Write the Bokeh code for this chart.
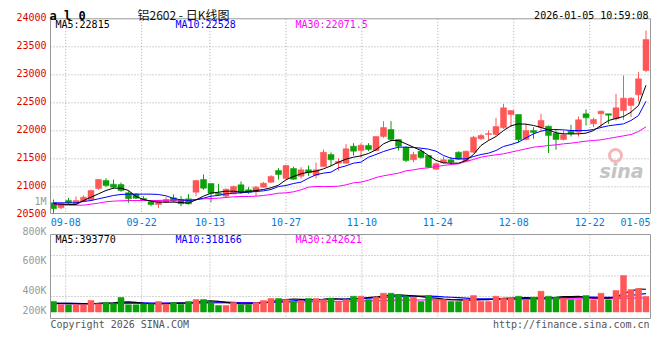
from bokeh.plotting import figure
from bokeh.models import Range1d, ColumnDataSource
from bokeh.core.properties import value
from bokeh.embed import file_html
from bokeh.resources import INLINE

# ---------------- data ----------------
opens = [20714, 20625, 20756, 20696, 20744, 20767, 20970, 21113, 21047, 21041,
         20892, 20869, 20791, 20732, 20684, 20726, 20803, 20773, 20785, 20904,
         21130, 21059, 20886, 20833, 20875, 21035, 20946, 20922, 20994, 21083,
         21291, 21148, 21327, 21190, 21303, 21208, 21363, 21577, 21422, 21422,
         21726, 21648, 21738, 21648, 21898, 22023, 21845, 21702, 21482, 21636,
         21559, 21315, 21428, 21482, 21619, 21458, 21619, 21856, 21934, 21934,
         22053, 22291, 22291, 21845, 22005, 22065, 22083, 21958, 21845, 21993,
         21976, 22303, 22124, 22303, 22303, 22214, 22362, 22452, 22642, 23077]
highs = [20773, 20708, 20803, 20827, 20845, 20946, 21142, 21154, 21130, 21077,
         20922, 20886, 20833, 20756, 20767, 20815, 20863, 20833, 20869, 21124,
         21220, 21059, 21053, 20970, 21023, 21095, 20994, 21017, 21083, 21208,
         21333, 21392, 21357, 21351, 21380, 21434, 21666, 21613, 21511, 21761,
         21779, 21779, 21779, 21898, 22172, 22172, 21845, 21720, 21624, 21678,
         21559, 21434, 21541, 21529, 21630, 21648, 21910, 21946, 22005, 22232,
         22482, 22362, 22291, 22124, 22065, 22303, 22095, 22017, 22005, 22107,
         22255, 22380, 22232, 22362, 22303, 22660, 22987, 22601, 23047, 23791]
lows = [20529, 20601, 20684, 20672, 20726, 20744, 20946, 20994, 20964, 20910,
        20714, 20779, 20756, 20654, 20619, 20708, 20726, 20654, 20684, 20833,
        20946, 20726, 20845, 20815, 20863, 20875, 20875, 20833, 20982, 21065,
        21130, 21136, 21124, 21148, 21196, 21148, 21351, 21369, 21291, 21410,
        21559, 21517, 21636, 21636, 21874, 21809, 21648, 21440, 21440, 21500,
        21333, 21303, 21410, 21410, 21482, 21440, 21601, 21839, 21827, 21916,
        22035, 22065, 21791, 21827, 21857, 22005, 21601, 21660, 21827, 21898,
        21898, 22095, 22065, 22065, 22124, 22184, 22196, 22244, 22523, 23047]
closes = [20607, 20696, 20714, 20756, 20815, 20934, 21130, 21023, 20994, 20934,
          20785, 20797, 20767, 20684, 20744, 20773, 20744, 20696, 20696, 21113,
          20976, 20886, 20863, 20958, 21005, 20904, 20904, 20994, 21065, 21184,
          21220, 21380, 21136, 21303, 21250, 21303, 21618, 21482, 21452, 21678,
          21636, 21743, 21666, 21898, 22059, 21845, 21726, 21470, 21577, 21523,
          21351, 21410, 21482, 21440, 21494, 21636, 21886, 21916, 21952, 22077,
          22410, 22362, 21839, 22005, 21970, 22184, 21916, 21845, 21928, 21946,
          22196, 22232, 22202, 22351, 22279, 22410, 22583, 22583, 22928, 23630]
ma5 = [20696, 20690, 20684, 20684, 20755, 20815, 20875, 20934, 20976, 20976,
       20934, 20827, 20773, 20744, 20726, 20726, 20726, 20720, 20708, 20767,
       20833, 20886, 20904, 20922, 20922, 20904, 20916, 20934, 20952, 20982,
       21029, 21125, 21184, 21232, 21261, 21279, 21321, 21374, 21440, 21494,
       21529, 21553, 21595, 21660, 21767, 21827, 21827, 21767, 21708, 21648,
       21559, 21470, 21428, 21422, 21422, 21470, 21577, 21738, 21827, 21898,
       22005, 22089, 22124, 22118, 22095, 22059, 22017, 21964, 21946, 21946,
       21946, 21958, 22005, 22095, 22184, 22220, 22255, 22333, 22452, 22815]
ma10 = [20714, 20714, 20714, 20714, 20738, 20755, 20785, 20815, 20845, 20863,
        20869, 20869, 20869, 20869, 20863, 20839, 20791, 20767, 20755, 20767,
        20797, 20833, 20845, 20875, 20886, 20892, 20904, 20916, 20928, 20952,
        21005, 21023, 21059, 21083, 21154, 21214, 21244, 21261, 21339, 21374,
        21422, 21440, 21529, 21577, 21630, 21672, 21708, 21708, 21702, 21690,
        21672, 21636, 21559, 21511, 21499, 21499, 21541, 21577, 21601, 21648,
        21720, 21755, 21797, 21874, 21946, 21993, 22023, 22023, 22017, 22005,
        22005, 22005, 22023, 22059, 22089, 22107, 22124, 22184, 22273, 22528]
ma30 = [20678, 20678, 20672, 20672, 20672, 20690, 20708, 20732, 20744, 20750,
        20755, 20755, 20755, 20755, 20755, 20761, 20761, 20761, 20767, 20773,
        20785, 20791, 20797, 20809, 20821, 20827, 20827, 20833, 20845, 20863,
        20886, 20892, 20910, 20946, 20994, 21005, 21005, 21005, 21011, 21035,
        21071, 21083, 21119, 21166, 21196, 21220, 21244, 21285, 21303, 21327,
        21339, 21363, 21380, 21398, 21410, 21452, 21488, 21529, 21553, 21571,
        21589, 21619, 21648, 21678, 21708, 21720, 21738, 21749, 21767, 21779,
        21797, 21815, 21827, 21839, 21863, 21886, 21910, 21934, 21988, 22071.5]
volumes = [182000, 125000, 125000, 125000, 125000, 199000, 142000, 164000, 147000, 251000,
           125000, 125000, 142000, 142000, 182000, 135000, 164000, 135000, 182000, 216000,
           216000, 164000, 112000, 112000, 164000, 125000, 125000, 164000, 199000, 234000,
           234000, 216000, 182000, 199000, 234000, 234000, 216000, 239000, 182000, 216000,
           273000, 273000, 216000, 256000, 325000, 325000, 303000, 273000, 256000, 182000,
           285000, 216000, 211000, 182000, 182000, 216000, 285000, 182000, 182000, 273000,
           239000, 239000, 273000, 216000, 256000, 360000, 273000, 256000, 239000, 211000,
           211000, 285000, 211000, 325000, 211000, 372000, 631000, 389000, 407000, 268000]
vol_ma5 = [150000, 150000, 148000, 145000, 140000, 140000, 150000, 155000, 160000, 170000,
           175000, 165000, 150000, 145000, 140000, 140000, 150000, 155000, 160000, 170000,
           190000, 195000, 185000, 165000, 150000, 140000, 140000, 150000, 160000, 180000,
           200000, 215000, 225000, 220000, 215000, 215000, 220000, 230000, 225000, 220000,
           225000, 240000, 250000, 260000, 280000, 290000, 295000, 290000, 280000, 265000,
           250000, 240000, 225000, 215000, 210000, 200000, 205000, 215000, 215000, 225000,
           235000, 240000, 245000, 250000, 245000, 240000, 250000, 255000, 265000, 265000,
           270000, 255000, 245000, 240000, 240000, 260000, 320000, 360000, 395000, 393770]
vol_ma10 = [150000, 150000, 149000, 148000, 147000, 147000, 148000, 150000, 152000, 155000,
            158000, 160000, 158000, 156000, 154000, 152000, 152000, 153000, 155000, 158000,
            162000, 170000, 172000, 170000, 166000, 160000, 158000, 158000, 160000, 165000,
            175000, 185000, 195000, 200000, 205000, 212000, 218000, 222000, 225000, 226000,
            228000, 232000, 238000, 245000, 252000, 260000, 268000, 272000, 275000, 276000,
            275000, 270000, 262000, 255000, 248000, 240000, 232000, 228000, 226000, 224000,
            222000, 224000, 228000, 232000, 236000, 238000, 240000, 244000, 248000, 252000,
            255000, 258000, 256000, 254000, 252000, 255000, 268000, 285000, 305000, 318166]
vol_ma30 = [140000, 140000, 141000, 142000, 142000, 143000, 144000, 144000, 145000, 146000,
            147000, 148000, 148000, 149000, 150000, 151000, 152000, 152000, 153000, 154000,
            155000, 157000, 158000, 159000, 160000, 161000, 162000, 163000, 165000, 166000,
            168000, 170000, 172000, 174000, 176000, 178000, 180000, 182000, 184000, 186000,
            189000, 191000, 193000, 196000, 198000, 201000, 203000, 205000, 207000, 208000,
            209000, 210000, 211000, 212000, 213000, 214000, 214000, 215000, 216000, 217000,
            218000, 219000, 220000, 221000, 222000, 223000, 224000, 225000, 226000, 227000,
            228000, 229000, 230000, 231000, 232000, 234000, 236000, 239000, 241000, 242621]
date_labels = ["09-08", "09-22", "10-13", "10-27", "11-10", "11-24", "12-08", "12-22", "01-05"]
date_index = [2, 12, 21, 31, 41, 51, 61, 71, 79]
price_ticks = [20500, 21000, 21500, 22000, 22500, 23000, 23500, 24000]
vol_tick_values = [1000000, 800000, 600000, 400000, 200000]
vol_tick_labels = ["1M", "800K", "600K", "400K", "200K"]
symbol = "a l 0"
title_text = "铝2602 - 日K线图"
stamp = "2026-01-05 10:59:08"

# ---------------- layout (pixels of the 660x360 picture) ----------------
N = len(closes)
W, H = 660, 360
PLOT_L, PLOT_R = 50, 650
P_TOP, P_BOT = 18.3, 213.0          # price panel box
V_TOP, V_BOT = 234.0, 318.0         # volume panel box
SLOT = 7.5                          # px per bar
PX_PER_500 = 28.0
VOL_ZERO_Y, VOL_PER_PX = 311.5, 17300.0
VLAB_1M_Y, VLAB_PX_PER_200K, VLAB_MAX_Y = 201.0, 29.7, 310.0
BAR_W = 0.8

RED, GREEN = "#ff5656", "#0aa00a"
GRID = "#aaaaaa"
BORDER = "#999999"
MONO = "DejaVu Sans Mono"


def x_at(X):
    return (X - PLOT_L) / SLOT


def price_at(Y):
    return 24000 - (Y - P_TOP) * 500.0 / PX_PER_500


def vol_at(Y):
    return (VOL_ZERO_Y - Y) * VOL_PER_PX


def vlab_at(Y):
    return 1000000 - (Y - VLAB_1M_Y) / VLAB_PX_PER_200K * 200000


p = figure(width=W, height=H, output_backend="svg", toolbar_location=None,
           x_range=Range1d(x_at(0), x_at(W)), y_range=Range1d(price_at(H), price_at(0)),
           x_axis_location=None, y_axis_location=None, min_border=0)
p.extra_x_ranges = {"px": Range1d(0, W)}
p.extra_y_ranges = {"px": Range1d(H, 0),
                    "vol": Range1d(vol_at(H), vol_at(0)),
                    "vlab": Range1d(vlab_at(H), vlab_at(0))}
p.outline_line_color = None
p.background_fill_color = "white"
p.border_fill_color = "white"
p.grid.visible = False

# ---- grids ----
gx = [i * N / (N - 1) for i in date_index[:-1]]
p.segment(x0=gx, x1=gx, y0=[P_TOP] * len(gx), y1=[P_BOT] * len(gx), y_range_name="px",
          line_color=GRID, line_dash="1 2", line_width=1)
p.segment(x0=gx, x1=gx, y0=[V_TOP] * len(gx), y1=[V_BOT] * len(gx), y_range_name="px",
          line_color=GRID, line_dash="1 2", line_width=1)
hg = price_ticks[1:-1]
p.segment(x0=[0] * len(hg), x1=[N] * len(hg), y0=hg, y1=hg,
          line_color=GRID, line_dash="1 2", line_width=1)
vg = [255.0, 275.5, 296.0]
p.segment(x0=[PLOT_L] * 3, x1=[PLOT_R] * 3, y0=vg, y1=vg, x_range_name="px", y_range_name="px",
          line_color=GRID, line_dash="1 2", line_width=1)

# ---- watermark ----
p.text(x=[621], y=[170], text=["sina"], x_range_name="px", y_range_name="px",
       text_font=value("DejaVu Sans"), text_font_style="bold italic", text_font_size=value("19px"),
       text_color="#c4c4c4", text_align="center", text_baseline="middle")
p.scatter(x=[615], y=[155], x_range_name="px", y_range_name="px", size=12, marker="circle",
          fill_color=None, line_color="#f2b8b8", line_width=3)

# ---- candles ----
idx = list(range(N))
colors = [RED if c >= o else GREEN for o, c in zip(opens, closes)]
src = ColumnDataSource(dict(
    left=[i for i in idx], right=[i + BAR_W for i in idx], mid=[i + BAR_W / 2 for i in idx],
    top=[max(o, c) for o, c in zip(opens, closes)], bottom=[min(o, c) for o, c in zip(opens, closes)],
    high=highs, low=lows, color=colors, vol=volumes, zero=[0] * N))
p.segment(x0="mid", x1="mid", y0="high", y1="low", source=src, line_color="color", line_width=1)
p.quad(left="left", right="right", top="top", bottom="bottom", source=src,
       fill_color="color", line_color="color", line_width=0.5)

mids = [i + BAR_W / 2 for i in idx]
p.line(mids, ma30, line_color="#ff00ff", line_width=1)
p.line(mids, ma10, line_color="#0000ff", line_width=1)
p.line(mids, ma5, line_color="#000000", line_width=1)

# ---- volume ----
p.line(mids, vol_ma30, y_range_name="vol", line_color="#ff00ff", line_width=1.2)
p.line(mids, vol_ma10, y_range_name="vol", line_color="#0000ff", line_width=1.2)
p.line(mids, vol_ma5, y_range_name="vol", line_color="#000000", line_width=1.2)
p.quad(left="left", right="right", top="vol", bottom="zero", source=src, y_range_name="vol",
       fill_color="color", line_color="color", line_width=0.5)

# ---- panel borders ----
p.quad(left=[PLOT_L, PLOT_L], right=[PLOT_R, PLOT_R], top=[P_TOP, V_TOP], bottom=[P_BOT, V_BOT],
       x_range_name="px", y_range_name="px", fill_color=None, line_color=BORDER, line_width=1)

# ---- axis labels ----
p.text(x=[46] * len(price_ticks), y=price_ticks, text=[str(t) for t in price_ticks],
       x_range_name="px", text_font=value(MONO), text_font_size=value("10px"),
       text_color="#e00000", text_align="right", text_baseline="middle", y_offset=-1.5)
vlab_y = [max(v, vlab_at(VLAB_MAX_Y)) for v in vol_tick_values]
p.text(x=[46] * len(vlab_y), y=vlab_y, text=vol_tick_labels, x_range_name="px", y_range_name="vlab",
       text_font=value(MONO), text_font_size=value("10px"), text_color="#9a9a9a",
       text_align="right", text_baseline="middle")

dx = [i * N / (N - 1) for i in date_index]
p.text(x=dx[:-1], y=[221.5] * (len(dx) - 1), text=date_labels[:-1], y_range_name="px",
       text_font=value(MONO), text_font_size=value("10px"), text_color="#0a78d2",
       text_align="center", text_baseline="middle")
p.text(x=dx[-1:], y=[221.5], text=date_labels[-1:], y_range_name="px",
       text_font=value(MONO), text_font_size=value("10px"), text_color="#0a78d2",
       text_align="right", text_baseline="middle")


# ---- texts ----
def txt(x, y, t, color, size="10px", font=MONO, align="left", style="normal", baseline="middle"):
    p.text(x=[x], y=[y], text=[t], x_range_name="px", y_range_name="px",
           text_font=value(font), text_font_size=value(size), text_color=color,
           text_align=align, text_baseline=baseline, text_font_style=style)


txt(49, 15, symbol, "#000000", size="12px", font="DejaVu Sans Mono", style="bold", baseline="alphabetic")
txt(137, 14.3, title_text, "#111111", size="12px", font="Noto Sans CJK SC", baseline="alphabetic")
txt(648, 15, stamp, "#000000", align="right", baseline="alphabetic")

txt(55, 24, "MA5:%s" % ma5[-1], "#000000")
txt(175, 24, "MA10:%s" % ma10[-1], "#0000ff")
txt(295, 24, "MA30:%s" % ma30[-1], "#ff00ff")
txt(55, 238.5, "MA5:%d" % vol_ma5[-1], "#000000")
txt(175, 238.5, "MA10:%d" % vol_ma10[-1], "#0000ff")
txt(295, 238.5, "MA30:%d" % vol_ma30[-1], "#ff00ff")

txt(50, 324, "Copyright 2026 SINA.COM", "#555555")
txt(649, 324, "http://finance.sina.com.cn", "#555555", align="right")

open("out.html", "w").write(file_html(p, INLINE))
